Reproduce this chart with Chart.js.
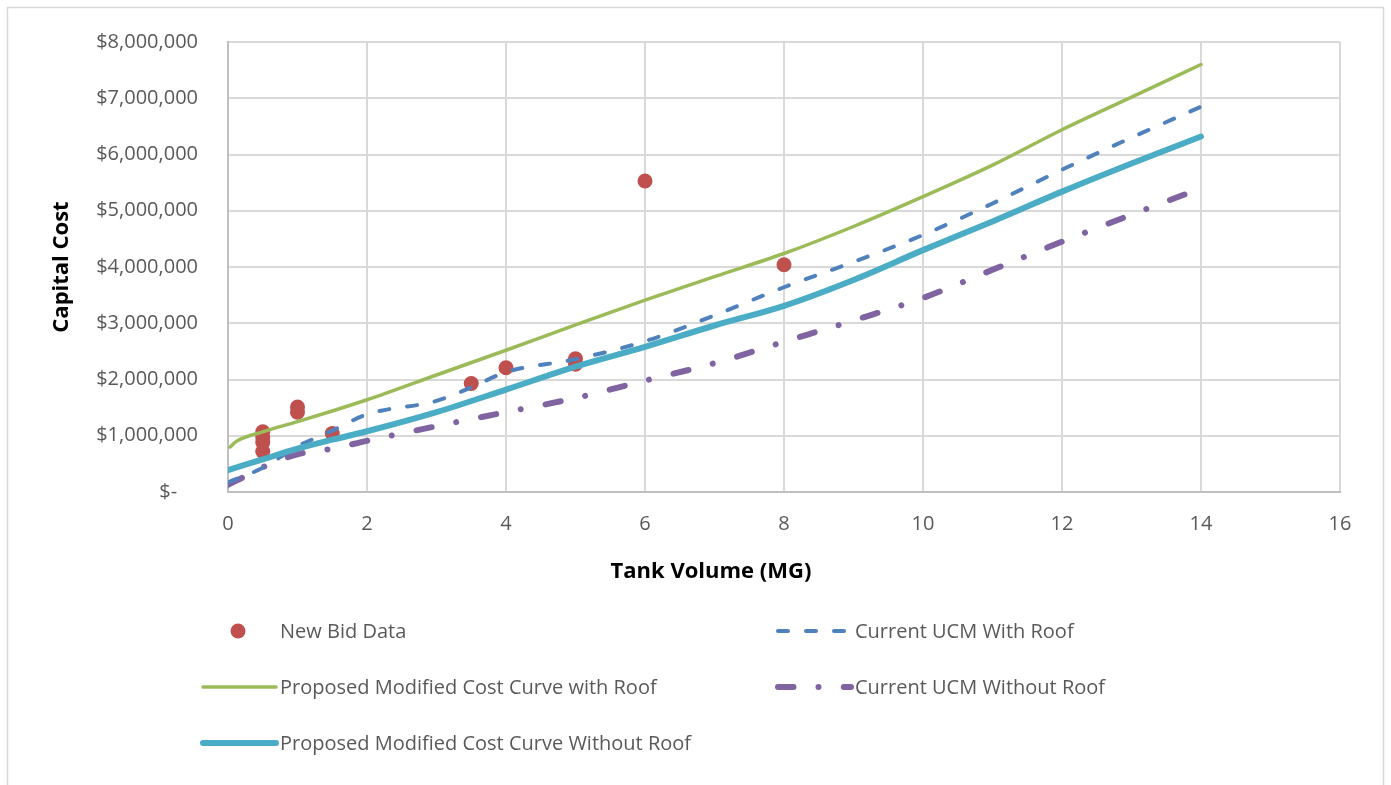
<!DOCTYPE html>
<html>
<head>
<meta charset="utf-8">
<title>Tank Volume vs Capital Cost</title>
<script src="https://cdn.jsdelivr.net/npm/chart.js@4.4.1/dist/chart.umd.min.js"></script>
<style>
    html, body { margin: 0; padding: 0; background: #ffffff; }
    #costChart { display: block; }
</style>
</head>
<body>
<canvas id="costChart" width="1391" height="785"></canvas>
<script>
// Bid data (tank volume in MG, capital cost in $)
const bidVolumes = [0.5, 0.5, 0.5, 0.5, 1, 1, 1.5, 3.5, 4, 5, 5, 6, 8];
const bidCosts = [1070000, 970000, 880000, 720000, 1510000, 1420000, 1040000, 1930000, 2210000, 2370000, 2270000, 5530000, 4040000];

// Current UCM With Roof
const ucmRoofVolumes = [0, 0.5, 1, 1.5, 2, 3, 3.5, 4, 5, 6, 7, 8, 9, 10, 11, 12, 13, 14];
const ucmRoofCosts = [170000, 430000, 810000, 1090000, 1380000, 1620000, 1860000, 2130000, 2360000, 2680000, 3140000, 3640000, 4090000, 4570000, 5130000, 5730000, 6300000, 6850000];

// Proposed Modified Cost Curve with Roof
const propRoofVolumes = [0.03, 0.12, 0.5, 1, 1.5, 2, 3, 4, 5, 6, 7, 8, 9, 10, 11, 12, 13, 14];
const propRoofCosts = [800000, 900000, 1070000, 1250000, 1440000, 1640000, 2080000, 2520000, 2970000, 3410000, 3830000, 4240000, 4720000, 5250000, 5810000, 6440000, 7020000, 7600000];

// Current UCM Without Roof
const ucmNoRoofVolumes = [0, 0.25, 0.5, 1, 1.5, 2, 3, 4, 5, 6, 7, 8, 9, 10, 11, 12, 13, 14];
const ucmNoRoofCosts = [130000, 280000, 440000, 670000, 770000, 910000, 1170000, 1420000, 1670000, 1980000, 2290000, 2670000, 3050000, 3450000, 3950000, 4450000, 4930000, 5400000];

// Proposed Modified Cost Curve Without Roof
const propNoRoofVolumes = [0, 0.5, 1, 1.5, 2, 3, 4, 5, 6, 7, 8, 9, 10, 11, 12, 13, 14];
const propNoRoofCosts = [390000, 580000, 770000, 930000, 1080000, 1420000, 1820000, 2230000, 2580000, 2960000, 3310000, 3770000, 4300000, 4810000, 5340000, 5840000, 6320000];

const seriesLabels = [
    'New Bid Data',
    'Current UCM With Roof',
    'Proposed Modified Cost Curve with Roof',
    'Current UCM Without Roof',
    'Proposed Modified Cost Curve Without Roof'
];

const xAxisTitle = 'Tank Volume (MG)';
const yAxisTitle = 'Capital Cost';

function toPoints(xs, ys) {
    return xs.map((x, i) => ({ x: x, y: ys[i] }));
}

// Grey frame around the chart object
const framePlugin = {
    id: 'frame',
    beforeDraw(chart) {
        const c = chart.ctx;
        c.save();
        c.strokeStyle = '#d9d9d9';
        c.lineWidth = 1.5;
        c.strokeRect(7.5, 7.5, 1376, 900);
        c.restore();
    }
};

// x axis title sits centred on the whole chart object, not on the plot
const xTitlePlugin = {
    id: 'xTitle',
    afterDraw(chart) {
        const c = chart.ctx;
        c.save();
        c.font = 'bold 22px "Open Sans"';
        c.fillStyle = '#000000';
        c.textAlign = 'center';
        c.textBaseline = 'middle';
        c.fillText(xAxisTitle, 711, 572);
        c.restore();
    }
};

// Legend laid out in two columns below the plot, like the Excel one
const gridLegendPlugin = {
    id: 'gridLegend',
    afterDraw(chart) {
        const c = chart.ctx;
        const colX = [203, 778];
        const rowY = [631, 687, 743];
        const lineLen = 73;

        c.save();
        c.font = '20px "Open Sans"';
        c.textBaseline = 'middle';
        c.textAlign = 'left';

        chart.data.datasets.forEach((ds, i) => {
            const x0 = colX[i % 2];
            const y = rowY[Math.floor(i / 2)];

            if (ds.showLine) {
                c.beginPath();
                c.strokeStyle = ds.borderColor;
                c.lineWidth = ds.borderWidth;
                c.lineCap = ds.borderCapStyle || 'butt';
                c.setLineDash(ds.borderDash || []);
                c.moveTo(x0, y);
                c.lineTo(x0 + lineLen, y);
                c.stroke();
                c.setLineDash([]);
            } else {
                c.beginPath();
                c.fillStyle = ds.backgroundColor;
                c.arc(x0 + 35, y, ds.pointRadius, 0, Math.PI * 2);
                c.fill();
            }

            c.fillStyle = '#595959';
            c.fillText(ds.label, x0 + lineLen + 4, y + 1);
        });
        c.restore();
    }
};

document.addEventListener('DOMContentLoaded', () => {
    const ctx = document.getElementById('costChart');
    new Chart(ctx, getChartConfig());
});

function getChartConfig() {
    const gridColor = '#d9d9d9';
    const axisColor = '#bfbfbf';
    const textColor = '#595959';
    const tickFont = { family: 'Open Sans', size: 20 };
    const titleFont = { family: 'Open Sans', size: 22, weight: 'bold' };

    const lineBase = {
        showLine: true,
        pointRadius: 0,
        pointHoverRadius: 0,
        cubicInterpolationMode: 'monotone',
        fill: false
    };

    return {
        type: 'scatter',
        data: {
            datasets: [
                {
                    label: seriesLabels[0],
                    data: toPoints(bidVolumes, bidCosts),
                    showLine: false,
                    backgroundColor: '#c0504d',
                    borderColor: '#c0504d',
                    borderWidth: 0,
                    pointRadius: 7.5,
                    order: 10
                },
                Object.assign({}, lineBase, {
                    label: seriesLabels[1],
                    data: toPoints(ucmRoofVolumes, ucmRoofCosts),
                    borderColor: '#4f81bd',
                    backgroundColor: '#4f81bd',
                    borderWidth: 4,
                    borderDash: [10, 18],
                    borderCapStyle: 'round',
                    order: 3
                }),
                Object.assign({}, lineBase, {
                    label: seriesLabels[2],
                    data: toPoints(propRoofVolumes, propRoofCosts),
                    borderColor: '#9bbb59',
                    backgroundColor: '#9bbb59',
                    borderWidth: 3.5,
                    borderCapStyle: 'round',
                    order: 2
                }),
                Object.assign({}, lineBase, {
                    label: seriesLabels[3],
                    data: toPoints(ucmNoRoofVolumes, ucmNoRoofCosts),
                    borderColor: '#8064a2',
                    backgroundColor: '#8064a2',
                    borderWidth: 6,
                    borderDash: [15.5, 25, 0.01, 25.3],
                    borderCapStyle: 'round',
                    order: 4
                }),
                Object.assign({}, lineBase, {
                    label: seriesLabels[4],
                    data: toPoints(propNoRoofVolumes, propNoRoofCosts),
                    borderColor: '#4bacc6',
                    backgroundColor: '#4bacc6',
                    borderWidth: 6,
                    borderCapStyle: 'round',
                    order: 1
                })
            ]
        },
        options: {
            responsive: false,
            devicePixelRatio: 1,
            animation: false,
            events: [],
            layout: {
                padding: { top: 42, right: 51, left: 0, bottom: 183 }
            },
            scales: {
                x: {
                    type: 'linear',
                    min: 0,
                    max: 16,
                    afterFit: (scale) => { scale.height = 110; },
                    grid: {
                        color: gridColor,
                        lineWidth: 2,
                        drawTicks: false
                    },
                    border: { color: axisColor, width: 2 },
                    ticks: {
                        stepSize: 2,
                        color: textColor,
                        font: tickFont,
                        padding: 20
                    },
                    title: { display: false }
                },
                y: {
                    type: 'linear',
                    min: 0,
                    max: 8000000,
                    afterFit: (scale) => { scale.width = 228; },
                    grid: {
                        color: gridColor,
                        lineWidth: 2,
                        drawTicks: false
                    },
                    border: { color: axisColor, width: 2 },
                    ticks: {
                        stepSize: 1000000,
                        color: textColor,
                        font: tickFont,
                        padding: 30,
                        callback: function(value) {
                            if (value === 0) return '$-    ';
                            return '$' + value.toLocaleString('en-US');
                        }
                    },
                    title: {
                        display: true,
                        text: yAxisTitle,
                        color: '#000000',
                        font: titleFont,
                        padding: { top: 49, bottom: 0 }
                    }
                }
            },
            plugins: {
                legend: { display: false },
                tooltip: { enabled: false }
            }
        },
        plugins: [framePlugin, xTitlePlugin, gridLegendPlugin]
    };
}
</script>
</body>
</html>
